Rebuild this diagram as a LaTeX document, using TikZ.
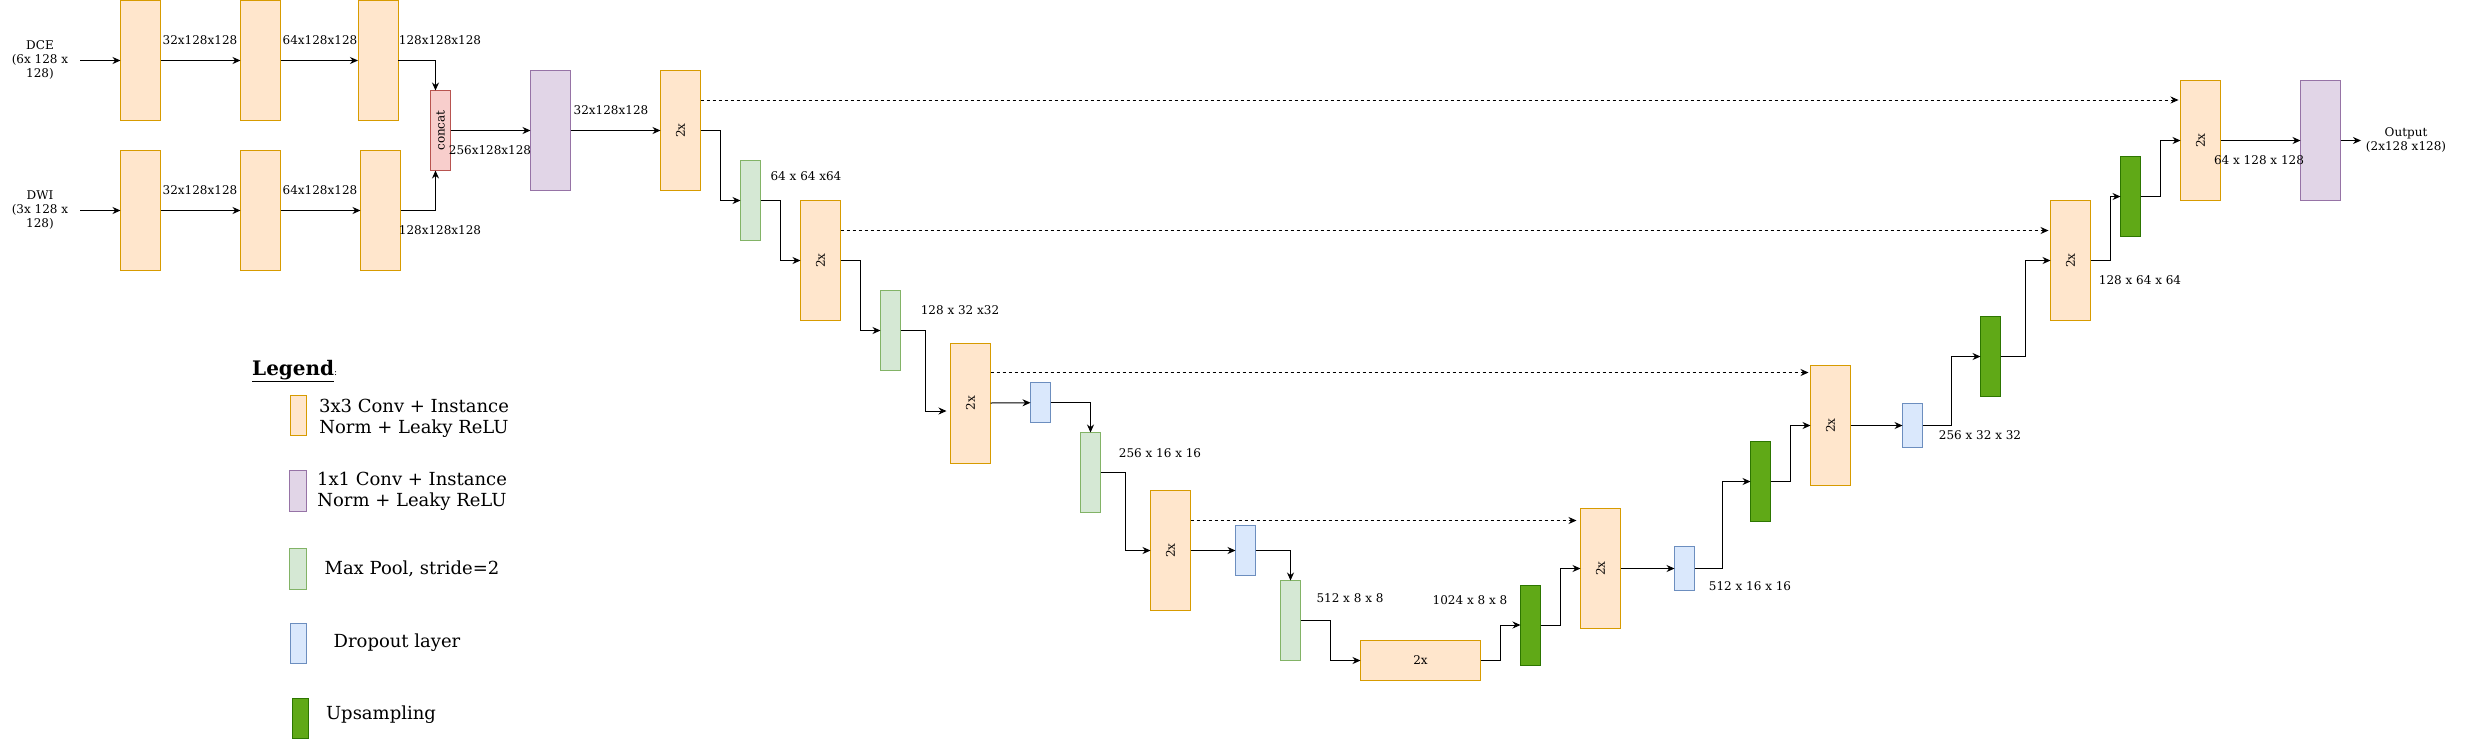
\documentclass[tikz,border=0pt]{standalone}
\usepackage{fontspec}
\setmainfont{DejaVu Serif}
\usetikzlibrary{arrows.meta}
\definecolor{convF}{HTML}{FFE6CC}\definecolor{convD}{HTML}{D79B00}
\definecolor{purF}{HTML}{E1D5E7}\definecolor{purD}{HTML}{9673A6}
\definecolor{poolF}{HTML}{D5E8D4}\definecolor{poolD}{HTML}{82B366}
\definecolor{dropF}{HTML}{DAE8FC}\definecolor{dropD}{HTML}{6C8EBF}
\definecolor{upF}{HTML}{60A917}\definecolor{upD}{HTML}{2D7600}
\definecolor{catF}{HTML}{F8CECC}\definecolor{catD}{HTML}{B85450}
\tikzset{
 blk/.style={draw, line width=1pt, inner sep=0pt, outer sep=0pt, font=\fontsize{12}{14}\selectfont},
 conv/.style={blk, fill=convF, draw=convD, minimum width=40pt, minimum height=120pt},
 convh/.style={blk, fill=convF, draw=convD, minimum width=120pt, minimum height=40pt},
 onebyone/.style={blk, fill=purF, draw=purD, minimum width=40pt, minimum height=120pt},
 pool/.style={blk, fill=poolF, draw=poolD, minimum width=20pt, minimum height=80pt},
 drop/.style={blk, fill=dropF, draw=dropD, minimum width=20pt},
 upsm/.style={blk, fill=upF, draw=upD, minimum width=20pt, minimum height=80pt},
 catbox/.style={blk, fill=catF, draw=catD, minimum width=20pt, minimum height=80pt},
 legbox/.style={blk, minimum width=16pt, minimum height=40pt},
 arr/.style={line width=1pt, -{Stealth[length=8pt,width=7pt]}},
 skip/.style={arr, dash pattern=on 3pt off 3pt},
 lbl/.style={font=\fontsize{12}{14}\selectfont, align=center, inner sep=0pt},
 leg/.style={font=\fontsize{18}{21}\selectfont, align=center, inner sep=0pt},
}
\begin{document}
\begin{tikzpicture}[x=1pt,y=-1pt]
\useasboundingbox[fill=white] (0,0) rectangle (2472,740);
% encoder inputs
\node[conv] (d1) at (140.5,60.5) {};
\node[conv] (d2) at (260.5,60.5) {};
\node[conv] (d3) at (378,60.5) {};
\node[conv] (w1) at (140.5,210.5) {};
\node[conv] (w2) at (260.5,210.5) {};
\node[conv] (w3) at (380.5,210.5) {};
\node[catbox] (cat) at (440.5,130.5) {\rotatebox{90}{concat}};
\node[onebyone] (p1) at (550.5,130.5) {};
% down path
\node[conv] (A) at (680.5,130.5) {\rotatebox{90}{2x}};
\node[pool] (pl1) at (750.5,200.5) {};
\node[conv] (B) at (820.5,260.5) {\rotatebox{90}{2x}};
\node[pool] (pl2) at (890.5,330.5) {};
\node[conv] (C) at (970.5,403) {\rotatebox{90}{2x}};
\node[drop, minimum height=40pt] (dr1) at (1040.5,402.7) {};
\node[pool] (pl3) at (1090.5,472.5) {};
\node[conv] (D) at (1170.5,550.5) {\rotatebox{90}{2x}};
\node[drop, minimum height=50pt] (dr2) at (1245.5,550.5) {};
\node[pool] (pl4) at (1290.5,620.5) {};
\node[convh] (E) at (1420.5,660.5) {2x};
% up path
\node[upsm] (u1) at (1530.5,625) {};
\node[conv] (F) at (1600.5,568.5) {\rotatebox{90}{2x}};
\node[drop, minimum height=44pt] (dr3) at (1684.5,568.5) {};
\node[upsm] (u2) at (1760.5,481.5) {};
\node[conv] (G) at (1830.5,425.5) {\rotatebox{90}{2x}};
\node[drop, minimum height=44pt] (dr4) at (1912.5,425.5) {};
\node[upsm] (u3) at (1990.5,356.5) {};
\node[conv] (H) at (2070.5,260.5) {\rotatebox{90}{2x}};
\node[upsm] (u4) at (2130.5,196.5) {};
\node[conv] (I) at (2200.5,140.5) {\rotatebox{90}{2x}};
\node[onebyone] (p2) at (2320.5,140.5) {};
% inputs / output
\node[lbl] (dce) at (40,60) {DCE\\(6x 128 x\\128)};
\node[lbl] (dwi) at (40,210) {DWI\\(3x 128 x\\128)};
\coordinate (dcein) at (80,60.5);
\coordinate (dwiin) at (80,210.5);
\coordinate (outend) at (2361,140.5);
\node[lbl] (outlbl) at (2406,140.3) {Output\\(2x128 x128)};
% connectors
\draw[arr] (dcein) -- (d1.west);
\draw[arr] (d1.east) -- (d2.west);
\draw[arr] (d2.east) -- (d3.west);
\draw[arr] (dwiin) -- (w1.west);
\draw[arr] (w1.east) -- (w2.west);
\draw[arr] (w2.east) -- (w3.west);
\draw[arr] (d3.east) -| ([xshift=-5pt]cat.north);
\draw[arr] (w3.east) -| ([xshift=-5pt]cat.south);
\draw[arr] (cat.east) -- (p1.west);
\draw[arr] (p1.east) -- (A.west);
\draw[arr] (A.east) -- ++(20,0) |- (pl1.west);
\draw[arr] (pl1.east) -- ++(20,0) |- (B.west);
\draw[arr] (B.east) -- ++(20,0) |- (pl2.west);
\draw[arr, shorten >=4pt] (pl2.east) -- ++(25,0) |- ([yshift=-8pt]C.west);
\draw[arr] (C.east) -- (dr1.west);
\draw[arr] (dr1.east) -| (pl3.north);
\draw[arr] (pl3.east) -- ++(25,0) |- (D.west);
\draw[arr] (D.east) -- (dr2.west);
\draw[arr] (dr2.east) -| (pl4.north);
\draw[arr] (pl4.east) -- ++(30,0) |- (E.west);
\draw[arr] (E.east) -- ++(20,0) |- (u1.west);
\draw[arr] (u1.east) -- ++(20,0) |- (F.west);
\draw[arr] (F.east) -- (dr3.west);
\draw[arr] (dr3.east) -- ++(28,0) |- (u2.west);
\draw[arr] (u2.east) -- ++(20,0) |- (G.west);
\draw[arr] (G.east) -- (dr4.west);
\draw[arr] (dr4.east) -- ++(29,0) |- (u3.west);
\draw[arr] (u3.east) -- ++(25,0) |- (H.west);
\draw[arr] (H.east) -- ++(20,0) |- (u4.west);
\draw[arr] (u4.east) -- ++(20,0) |- (I.west);
\draw[arr] (I.east) -- (p2.west);
\draw[arr] (p2.east) -- (outend);
% skip connections
\draw[skip, shorten >=2pt] ([yshift=30.5pt]A.east) -- ([yshift=30.5pt]A.east -| I.west);
\draw[skip, shorten >=2pt] ([yshift=30pt]B.east) -- ([yshift=30pt]B.east -| H.west);
\draw[skip, shorten >=2pt] ([yshift=30.5pt]C.east) -- ([yshift=30.5pt]C.east -| G.west);
\draw[skip, shorten >=4pt] ([yshift=30pt]D.east) -- ([yshift=30pt]D.east -| F.west);
% size labels
\node[lbl] (l1) at (200,40) {32x128x128};
\node[lbl] (l2) at (320,40) {64x128x128};
\node[lbl] (l3) at (440,40) {128x128x128};
\node[lbl] (l4) at (200,190) {32x128x128};
\node[lbl] (l5) at (320,190) {64x128x128};
\node[lbl] (l6) at (440,230) {128x128x128};
\node[lbl] (l7) at (490,150) {256x128x128};
\node[lbl] (l8) at (611,110) {32x128x128};
\node[lbl] (l9) at (806,176) {64 x 64 x64};
\node[lbl] (l10) at (960,310) {128 x 32 x32};
\node[lbl] (l11) at (1160,453) {256 x 16 x 16};
\node[lbl] (l12) at (1350,598) {512 x 8 x 8};
\node[lbl] (l13) at (1470,600) {1024 x 8 x 8};
\node[lbl] (l14) at (1750,586) {512 x 16 x 16};
\node[lbl] (l15) at (1980,435) {256 x 32 x 32};
\node[lbl] (l16) at (2140,280) {128 x 64 x 64};
\node[lbl] (l17) at (2259,160) {64 x 128 x 128};
% legend
\node[inner sep=0pt, anchor=west] (legt) at (252,371) {\fontsize{20}{24}\selectfont\bfseries\underline{Legend}\fontsize{9}{10}\selectfont\mdseries:};
\node[legbox, fill=convF, draw=convD] (lb1) at (298,415.5) {};
\node[leg] (lt1) at (414,418) {3x3 Conv + Instance\\Norm + Leaky ReLU};
\node[legbox, fill=purF, draw=purD, minimum width=17pt, minimum height=41pt] (lb2) at (298,491) {};
\node[leg] (lt2) at (412,491) {1x1 Conv + Instance\\Norm + Leaky ReLU};
\node[legbox, fill=poolF, draw=poolD, minimum width=17pt, minimum height=41pt] (lb3) at (298,568.5) {};
\node[leg] (lt3) at (412,569) {Max Pool, stride=2};
\node[legbox, fill=dropF, draw=dropD] (lb4) at (298.5,643) {};
\node[leg] (lt4) at (397,643) {Dropout layer};
\node[legbox, fill=upF, draw=upD] (lb5) at (300,718.5) {};
\node[leg] (lt5) at (381,715) {Upsampling};
\end{tikzpicture}
\end{document}
